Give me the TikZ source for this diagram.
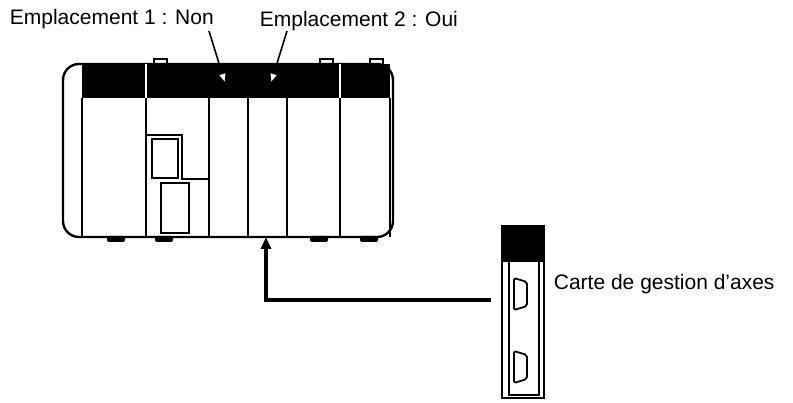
\documentclass[tikz,border=0pt]{standalone}
\usepackage{fontspec}
\setmainfont{Liberation Sans}
\usetikzlibrary{arrows.meta,positioning}

\tikzset{
  lbl/.style={inner sep=0pt, font=\fontsize{21}{25}\selectfont},
  band/.style={fill=black},
  foot/.style={fill=black, rounded corners=2pt},
  pointer/.style={line width=1.6pt, -{Triangle[open,fill=white,length=14pt,width=11pt]}},
  cable/.style={line width=3.5pt, -{Triangle[length=12pt,width=10pt]}},
}

\begin{document}
\begin{tikzpicture}[x=1pt,y=-1pt,line width=1.8pt]
    \useasboundingbox (0,0) rectangle (793,403);
    % rack
    \draw[line width=2.4pt,rounded corners=16pt] (63,64) rectangle (393,237);
    \fill[band] (82,64) rectangle (390,98);
    \draw[white,line width=1.5pt] (146,64) -- (146,98);
    \draw[white,line width=1.5pt] (340,64) -- (340,98);
    \foreach \x in {82,146,209,248,287,340,390}
      \draw (\x,98) -- (\x,237);
    % tabs on top
    \foreach \x in {154,320,370}
      \draw (\x,64) -- (\x,59) -- (\x+13,59) -- (\x+13,64);
    % feet
    \foreach \x in {107,155,310,360}
      \fill[foot] (\x,236) rectangle (\x+18,242);
    % CPU front
    \draw (147,135) -- (182,135) -- (182,179) -- (209,179);
    \draw (152,139) rectangle (178,178);
    \draw (161,183) rectangle (189,233);
    \coordinate (slot) at (266,237);
    % labels
    \node[lbl, anchor=west] (slot1) at (9,19) {Emplacement 1 : Non};
    \node[lbl, anchor=west] (slot2) at (259,21) {Emplacement 2 : Oui};
    \coordinate (tip1) at (226,86);
    \coordinate (tip2) at (270,86);
    \draw[pointer] (209,31) -- (tip1);
    \draw[pointer] (287,31) -- (tip2);
    % card
    \draw (502,226) rectangle (544,398);
    \fill[band] (502,226) rectangle (544,262);
    \draw (509,262) -- (509,395) -- (539,395) -- (539,262);
    \draw[rounded corners=2pt] (514,278) -- (527,282) -- (527,306) -- (514,310) -- cycle;
    \draw[rounded corners=2pt] (514,351) -- (527,355) -- (527,379) -- (514,383) -- cycle;
    \node[lbl, anchor=west] (card) at (553,284) {Carte de gestion d'axes};
    \coordinate (plug) at (491,300);
    \draw[cable] (plug) -- (266,300) -- (slot);
\end{tikzpicture}
\end{document}
